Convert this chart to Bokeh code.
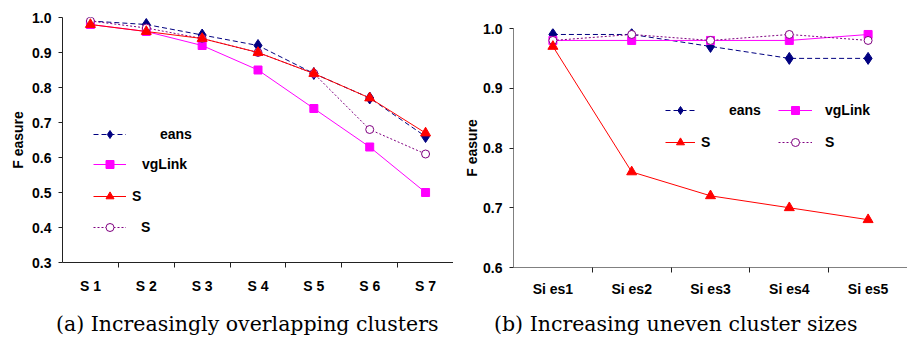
from bokeh.plotting import figure
from bokeh.layouts import row, column
from bokeh.models import Range1d, FixedTicker, Legend, LegendItem, PrintfTickFormatter, Div
from bokeh.embed import file_html
from bokeh.resources import INLINE

# ---------------- data ----------------
cats_a = ["S 1", "S 2", "S 3", "S 4", "S 5", "S 6", "S 7"]
kmeans_a = [0.99, 0.98, 0.95, 0.92, 0.84, 0.77, 0.66]
avglink_a = [0.98, 0.96, 0.92, 0.85, 0.74, 0.63, 0.50]
ss_a = [0.98, 0.96, 0.94, 0.90, 0.84, 0.77, 0.67]
s_a = [0.99, 0.97, 0.94, 0.90, 0.84, 0.68, 0.61]
yticks_a = [0.3, 0.4, 0.5, 0.6, 0.7, 0.8, 0.9, 1.0]

cats_b = ["Si es1", "Si es2", "Si es3", "Si es4", "Si es5"]
kmeans_b = [0.99, 0.99, 0.97, 0.95, 0.95]
avglink_b = [0.98, 0.98, 0.98, 0.98, 0.99]
ss_b = [0.97, 0.76, 0.72, 0.70, 0.68]
s_b = [0.98, 0.99, 0.98, 0.99, 0.98]
yticks_b = [0.6, 0.7, 0.8, 0.9, 1.0]

labels = ["eans", "vgLink", "S", "S"]
caption_a = "(a) Increasingly overlapping clusters"
caption_b = "(b) Increasing uneven cluster sizes"
ylabel = "F easure"

FONT = "Liberation Sans"
NAVY, MAG, RED, PURP = "#000080", "#FF00FF", "#FF0000", "#800080"


def make(cats, series, yticks, w, h, mb, xstandoff, ystandoff, lstandoff, axcolor,
         legend_specs):
    n = len(cats)
    xs = list(range(1, n + 1))
    p = figure(title=None, width=w, height=h, output_backend="svg",
               toolbar_location=None,
               x_range=Range1d(0.5, n + 0.5), y_range=Range1d(yticks[0], yticks[-1]),
               min_border_left=mb[0], min_border_right=mb[1], min_border_top=mb[2],
               min_border_bottom=mb[3])
    p.outline_line_color = None
    p.grid.visible = False
    p.background_fill_color = "white"
    p.border_fill_color = "white"

    xa = p.xaxis[0]
    xa.ticker = FixedTicker(ticks=xs, minor_ticks=[x + 0.5 for x in xs[:-1]])
    xa.major_label_overrides = {x: c for x, c in zip(xs, cats)}
    xa.major_tick_out = 0
    xa.major_tick_in = 0
    xa.minor_tick_out = 5
    xa.minor_tick_in = 0
    xa.major_label_standoff = xstandoff
    ya = p.yaxis[0]
    ya.ticker = FixedTicker(ticks=yticks)
    ya.formatter = PrintfTickFormatter(format="%.1f")
    ya.major_tick_out = 4
    ya.major_tick_in = 0
    ya.major_label_standoff = ystandoff
    ya.axis_label = ylabel
    ya.axis_label_standoff = lstandoff
    for ax in (xa, ya):
        ax.axis_line_color = axcolor
        ax.major_tick_line_color = "#222222"
        ax.major_label_text_font = FONT
        ax.major_label_text_font_style = "bold"
        ax.major_label_text_font_size = "14px"
        ax.major_label_text_color = "black"
        ax.axis_label_text_font = FONT
        ax.axis_label_text_font_style = "bold"
        ax.axis_label_text_font_size = "14px"
        ax.axis_label_text_color = "black"
    xa.minor_tick_line_color = "#222222"
    ya.minor_tick_line_color = None

    k, a, s2, s1 = series
    rk = [p.line(xs, k, line_color=NAVY, line_width=1, line_dash="5 3"),
          p.scatter(xs, k, marker="diamond", size=12, fill_color=NAVY, line_color=NAVY)]
    ra = [p.line(xs, a, line_color=MAG, line_width=1),
          p.scatter(xs, a, marker="square", size=8, fill_color=MAG, line_color=MAG)]
    rs1 = [p.line(xs, s1, line_color=PURP, line_width=1, line_dash="2 2"),
           p.scatter(xs, s1, marker="circle", size=8, fill_color="white", line_color=PURP)]
    rs2 = [p.line(xs, s2, line_color=RED, line_width=1),
           p.scatter(xs, s2, marker="triangle", size=10, fill_color=RED, line_color=RED)]
    rends = [rk, ra, rs2, rs1]
    for lab, rr, (lx, ly, gw, sto) in zip(labels, rends, legend_specs):
        lg = Legend(items=[LegendItem(label=lab, renderers=rr)], location=(lx, ly),
                    glyph_width=gw, glyph_height=20, label_standoff=sto, padding=0,
                    margin=0, spacing=0, border_line_alpha=0, background_fill_alpha=0,
                    label_text_font=FONT, label_text_font_style="bold",
                    label_text_font_size="14px", label_text_color="black",
                    label_height=20)
        p.add_layout(lg)
    return p


pa = make(cats_a, (kmeans_a, avglink_a, ss_a, s_a), yticks_a, 453, 305, (62, 0, 17, 43),
          10, 7, 3, "#222222",
          [(31, 118, 33, 34), (31, 88, 33, 16), (31, 56, 33, 6), (31, 25, 33, 15)])
pb = make(cats_b, (kmeans_b, avglink_b, ss_b, s_b), yticks_b, 454, 305, (60, 0, 28, 38),
          8, 7, 0, "#808080",
          [(152, 147, 30, 34), (265, 147, 34, 13), (152, 115, 30, 6), (265, 115, 34, 13)])

cap_style = {"font-family": "DejaVu Serif", "font-size": "20.5px", "color": "black",
             "line-height": "34px", "white-space": "nowrap"}
span = '<span style="position:relative; top:2px">{}</span>'
da = Div(text=span.format(caption_a), width=453, height=34, margin=0,
         styles=dict(cap_style, **{"padding-left": "56px"}))
db = Div(text=span.format(caption_b), width=454, height=34, margin=0,
         styles=dict(cap_style, **{"padding-left": "41px"}))

layout = column(row(column(pa), column(pb), spacing=0), row(da, db, spacing=0), spacing=0)
open("out.html", "w").write(file_html(layout, INLINE))
